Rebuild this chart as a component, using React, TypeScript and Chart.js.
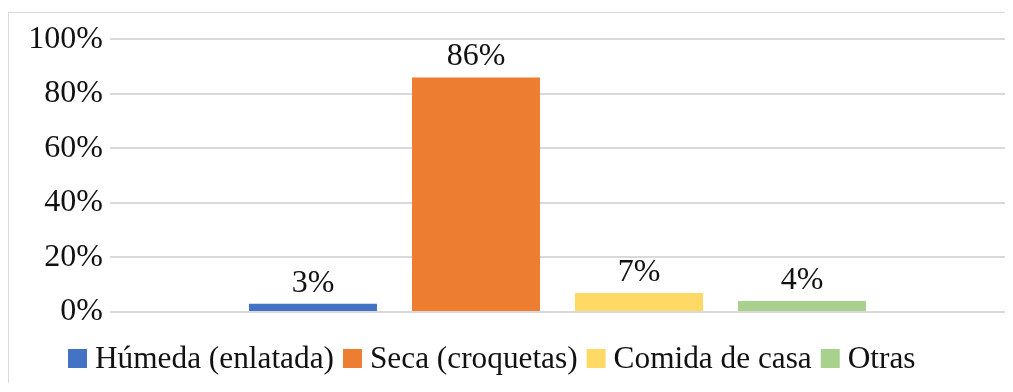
import React, { useEffect, useRef } from "react";
import { Chart, registerables } from "chart.js";

Chart.register(...registerables);

// Food type shares (percent)
const categories = ["Tipo de alimento"];
const seriesNames = ["Húmeda (enlatada)", "Seca (croquetas)", "Comida de casa", "Otras"];
const seriesValues = [3, 86, 7, 4];
const seriesColors = ["#4472C4", "#ED7D31", "#FFD966", "#A9D18E"];
const yTickValues = [0, 20, 40, 60, 80, 100];

const FONT = "'Liberation Serif', 'Times New Roman', serif";
const NUM_FONT_SIZE = 32;
const LEGEND_FONT_SIZE = 31.3;
const TEXT_COLOR = "#111111";

// Value labels above each bar
const valueLabels = {
  id: "valueLabels",
  afterDatasetsDraw(chart: any) {
    const ctx = chart.ctx;
    ctx.save();
    ctx.font = `${NUM_FONT_SIZE}px ${FONT}`;
    ctx.fillStyle = TEXT_COLOR;
    ctx.textAlign = "center";
    ctx.textBaseline = "alphabetic";
    chart.data.datasets.forEach((ds: any, i: number) => {
      const meta = chart.getDatasetMeta(i);
      meta.data.forEach((bar: any, j: number) => {
        ctx.fillText(`${ds.data[j]}%`, bar.x, bar.y - 12);
      });
    });
    ctx.restore();
  },
};

// Legend row with square swatches
const squareLegend = {
  id: "squareLegend",
  afterDraw(chart: any) {
    const ctx = chart.ctx;
    const box = 19;
    const textGap = 8;
    const itemGap = 9;
    const boxTop = 336;
    let x = 59;
    ctx.save();
    ctx.font = `${LEGEND_FONT_SIZE}px ${FONT}`;
    ctx.textAlign = "left";
    ctx.textBaseline = "middle";
    chart.data.datasets.forEach((ds: any) => {
      ctx.fillStyle = ds.backgroundColor;
      ctx.fillRect(x, boxTop, box, box);
      x += box + textGap;
      ctx.fillStyle = TEXT_COLOR;
      ctx.fillText(ds.label, x, boxTop + box / 2 + 1);
      x += ctx.measureText(ds.label).width + itemGap;
    });
    ctx.restore();
  },
};

export default function App() {
  const canvasRef = useRef<HTMLCanvasElement | null>(null);

  useEffect(() => {
    if (!canvasRef.current) return;
    const chart = new Chart(canvasRef.current, {
      type: "bar",
      data: {
        labels: categories,
        datasets: seriesNames.map((name, i) => ({
          label: name,
          data: [seriesValues[i]],
          backgroundColor: seriesColors[i],
          borderWidth: 0,
          barPercentage: 0.785,
          categoryPercentage: 0.7285,
        })),
      },
      options: {
        responsive: false,
        maintainAspectRatio: false,
        animation: false,
        devicePixelRatio: 1,
        layout: { padding: { left: 0, right: 8, top: 24, bottom: 71 } },
        plugins: {
          legend: { display: false },
          tooltip: { enabled: false },
        },
        scales: {
          x: { display: false },
          y: {
            min: 0,
            max: 100,
            afterBuildTicks(scale: any) {
              scale.ticks = yTickValues.map((v) => ({ value: v }));
            },
            afterFit(scale: any) {
              scale.width = 101;
            },
            border: { display: false },
            grid: { color: "#d9d9d9", lineWidth: 2, drawTicks: false },
            ticks: {
              padding: 7,
              color: TEXT_COLOR,
              font: { family: FONT, size: NUM_FONT_SIZE },
              callback: (v: any) => `${v}%`,
            },
          },
        },
      },
      plugins: [valueLabels, squareLegend],
    });
    return () => chart.destroy();
  }, []);

  return (
    <div style={{ paddingTop: 4 }}>
      <div
        style={{
          borderTop: "1px solid #d9d9d9",
          borderLeft: "1px solid #d9d9d9",
          width: 1004,
          height: 370,
        }}
      >
        <canvas ref={canvasRef} width={1004} height={370} style={{ display: "block" }} />
      </div>
    </div>
  );
}
